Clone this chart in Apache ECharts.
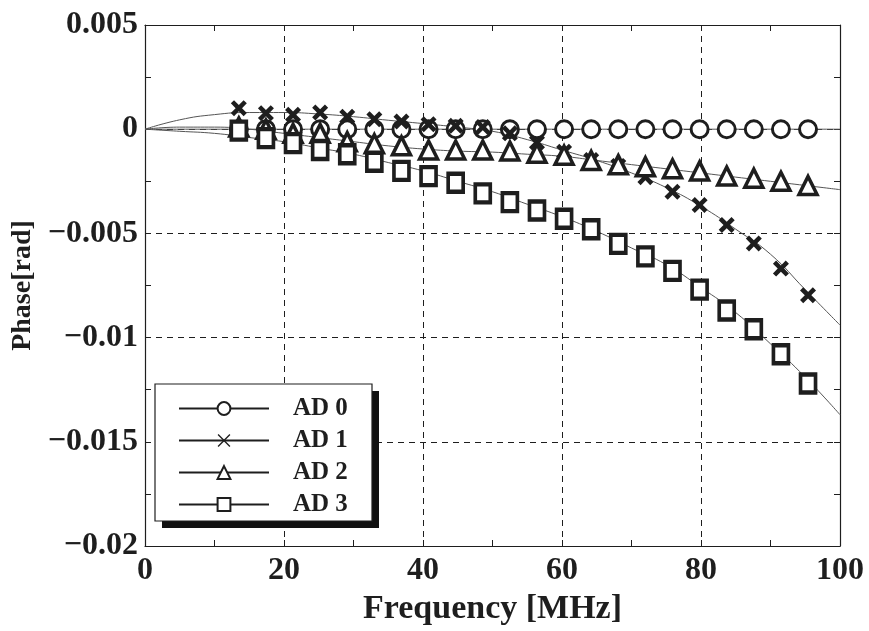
<!doctype html>
<html>
    <head>
        <meta charset="utf-8">
        <style>
            html, body { margin: 0; padding: 0; background: #fff; }
            #main { width: 869px; height: 631px; }
        </style>
    </head>
    <body>
        <div id="main"></div>
        <script src="https://cdn.jsdelivr.net/npm/echarts@6/dist/echarts.min.js"></script>
        <script>
            // measured points (MHz)
            var freqs = [13.5, 17.4, 21.3, 25.2, 29.1, 33.0, 36.9, 40.8, 44.7, 48.6, 52.5,
                         56.4, 60.3, 64.2, 68.1, 72.0, 75.9, 79.8, 83.7, 87.6, 91.5, 95.4];
            var ad0 = [0, 0, 0, 0, 0, 0, 0, 0, 0, 0, 0, 0, 0, 0, 0, 0, 0, 0, 0, 0, 0, 0];
            var ad1 = [0.00101, 0.00077, 0.00069, 0.0008, 0.0006, 0.00048, 0.00037, 0.00024, 0.00016, 0.0001,
                       -0.0002, -0.00064, -0.00108, -0.00148, -0.00176, -0.0023, -0.003, -0.00364,
                       -0.0046, -0.00548, -0.00669, -0.00797];
            var ad2 = [0.0001, 0.0, -0.0002, -0.0002, -0.0006, -0.0007, -0.0008, -0.001, -0.001, -0.001,
                       -0.00105, -0.00115, -0.00125, -0.0015, -0.0017, -0.0018, -0.0019, -0.002,
                       -0.00225, -0.00235, -0.0025, -0.0027];
            var ad3 = [-0.00007, -0.00043, -0.00067, -0.001, -0.0012, -0.00156, -0.002, -0.00225, -0.00257, -0.00308,
                       -0.0035, -0.0039, -0.0043, -0.0048, -0.0055, -0.0061, -0.0068, -0.0077,
                       -0.0087, -0.0096, -0.0108, -0.0122];

            // fitted curves
            var fitFreq = [0, 5, 10, 15, 20, 25, 30, 35, 40, 45, 50, 55, 60, 65, 70, 75, 80, 85, 90, 95, 100];
            var fit0 = [0, 0, 0, 0, 0, 0, 0, 0, 0, 0, 0, 0, 0, 0, 0, 0, 0, 0, 0, 0, 0];
            var fit1 = [0, 0.00045, 0.0007, 0.0008, 0.0008, 0.00073, 0.0006, 0.00043, 0.00027, 0.0001,
                        -0.0001, -0.0005, -0.001, -0.0015, -0.0021, -0.0028, -0.0037, -0.0048, -0.006, -0.0077, -0.0094];
            var fit2 = [0, 0.0001, 0.0001, 0, -0.0002, -0.0004, -0.0006, -0.0008, -0.00095, -0.00105,
                        -0.0011, -0.0012, -0.0013, -0.0015, -0.0017, -0.0019, -0.0021, -0.0023, -0.0025, -0.0027, -0.0029];
            var fit3 = [0, -0.0001, -0.0002, -0.0004, -0.0006, -0.0009, -0.0012, -0.0016, -0.002, -0.0025,
                        -0.003, -0.0036, -0.0042, -0.0049, -0.0057, -0.0065, -0.0076, -0.0088, -0.0103, -0.0119, -0.0137];

            var names = ['AD 0', 'AD 1', 'AD 2', 'AD 3'];
            var FONT = '"Liberation Serif", "DejaVu Serif", serif';
            var INK = '#1e1e1e';
            var CROSS = 'path://M0,4 L4,0 L10,6 L16,0 L20,4 L14,10 L20,16 L16,20 L10,14 L4,20 L0,16 L6,10 Z';
            var CROSS_THIN = 'path://M0,1.5 L1.5,0 L10,8.5 L18.5,0 L20,1.5 L11.5,10 L20,18.5 L18.5,20 L10,11.5 L1.5,20 L0,18.5 L8.5,10 Z';
            var symbols = ['circle', CROSS, 'triangle', 'rect'];
            var legendSymbols = ['circle', CROSS_THIN, 'triangle', 'rect'];

            function pairs(xs, ys) {
                return xs.map(function (x, i) { return [x, ys[i]]; });
            }

            function fitSeries(ys) {
                return {
                    type: 'line', smooth: true, showSymbol: false, silent: true,
                    data: pairs(fitFreq, ys),
                    lineStyle: { color: '#555', width: 1 },
                    z: 2
                };
            }

            // hollow markers: white fill + thick dark border; the cross is solid
            function markStyle(i, bw) {
                return i === 1
                    ? { color: INK, borderWidth: 0, opacity: 1 }
                    : { color: '#fff', borderColor: INK, borderWidth: bw, opacity: 1 };
            }

            function markSeries(i, ys, size, bw) {
                return {
                    type: 'scatter', data: pairs(freqs, ys),
                    symbol: symbols[i], symbolSize: size,
                    itemStyle: markStyle(i, bw),
                    z: 3
                };
            }

            // empty line series only used for the legend entries
            function legendSeries(i) {
                return {
                    name: names[i], type: 'line', data: [],
                    symbol: legendSymbols[i], symbolSize: 14,
                    lineStyle: { color: INK, width: 1.2 },
                    itemStyle: markStyle(i, 1.6)
                };
            }

            function fmtY(v) {
                v = parseFloat(v.toFixed(4));
                return v === 0 ? '0' : String(v).replace('-', '\u2212');
            }

            function sideAxis(base, pos) {
                return Object.assign({}, base, {
                    position: pos,
                    axisLine: { onZero: false, lineStyle: { color: INK, width: 1.2 } },
                    axisTick: { inside: true, length: 6, lineStyle: { color: INK } },
                    minorTick: { show: true, splitNumber: 2, length: 6, lineStyle: { color: INK } },
                    axisLabel: { show: false }, splitLine: { show: false }
                });
            }

            var chart = echarts.init(document.getElementById('main'));

            chart.setOption({
                animation: false,
                backgroundColor: '#fff',
                grid: { left: 145, right: 29, top: 25, bottom: 85 },
                graphic: [
                    { type: 'rect', z: 10, shape: { x: 162, y: 391, width: 217, height: 137 }, style: { fill: '#111' } },
                    { type: 'rect', z: 11, shape: { x: 155, y: 384, width: 217, height: 137 },
                      style: { fill: '#fff', stroke: INK, lineWidth: 1.2 } }
                ],
                legend: {
                    data: names,
                    orient: 'vertical',
                    left: 178, top: 396, z: 12,
                    padding: 0,
                    itemWidth: 90, itemHeight: 16, itemGap: 7,
                    textStyle: { fontFamily: FONT, fontWeight: 'bold', fontSize: 25, color: INK, padding: [0, 0, 0, 19] }
                },
                xAxis: [{
                    type: 'value', min: 0, max: 100, interval: 20,
                    name: 'Frequency [MHz]', nameLocation: 'middle', nameGap: 34,
                    nameTextStyle: { fontFamily: FONT, fontWeight: 'bold', fontSize: 34, color: INK },
                    axisLine: { onZero: false, lineStyle: { color: INK, width: 1.2 } },
                    axisTick: { inside: true, length: 6, lineStyle: { color: INK } },
                    minorTick: { show: true, splitNumber: 2, length: 6, lineStyle: { color: INK } },
                    axisLabel: { fontFamily: FONT, fontWeight: 'bold', fontSize: 32, color: INK, margin: 9 },
                    splitLine: { show: true, lineStyle: { color: INK, type: [6, 5], width: 1 } }
                }, sideAxis({ type: 'value', min: 0, max: 100, interval: 20 }, 'top')],
                yAxis: [{
                    type: 'value', min: -0.02, max: 0.005, interval: 0.005,
                    name: 'Phase[rad]', nameLocation: 'middle', nameGap: 107,
                    nameTextStyle: { fontFamily: FONT, fontWeight: 'bold', fontSize: 28, color: INK },
                    axisLine: { onZero: false, lineStyle: { color: INK, width: 1.2 } },
                    axisTick: { inside: true, length: 6, lineStyle: { color: INK } },
                    minorTick: { show: true, splitNumber: 2, length: 6, lineStyle: { color: INK } },
                    axisLabel: { fontFamily: FONT, fontWeight: 'bold', fontSize: 32, color: INK, margin: 7, formatter: fmtY },
                    splitLine: { show: true, lineStyle: { color: INK, type: [6, 5], width: 1 } }
                }, sideAxis({ type: 'value', min: -0.02, max: 0.005, interval: 0.005 }, 'right')],
                series: [
                    fitSeries(fit0), fitSeries(fit1), fitSeries(fit2), fitSeries(fit3),
                    markSeries(0, ad0, 17, 3),
                    markSeries(1, ad1, 16, 0),
                    markSeries(2, ad2, 18, 3.5),
                    markSeries(3, ad3, [15, 18], 4),
                    legendSeries(0), legendSeries(1), legendSeries(2), legendSeries(3)
                ]
            });

            window.addEventListener('resize', function () {
                chart.resize();
            });
        </script>
    </body>
</html>
